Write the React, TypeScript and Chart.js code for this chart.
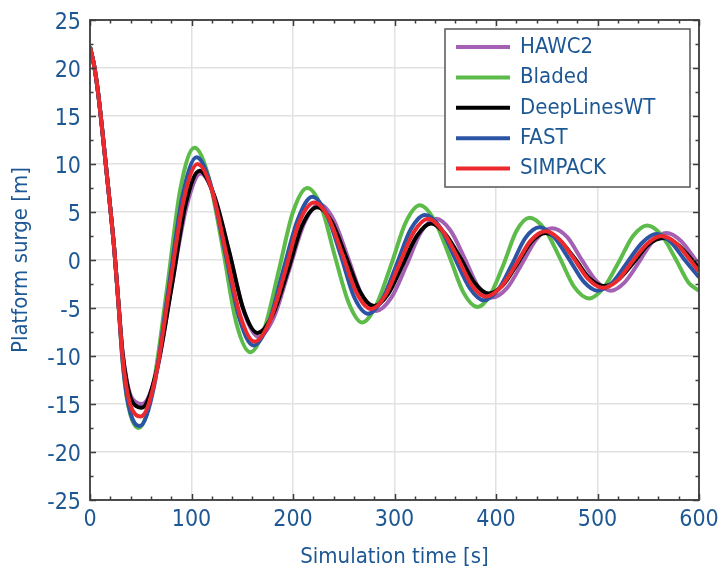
import { useEffect, useRef } from "react";
import { Chart, registerables } from "chart.js";

Chart.register(...registerables);

// ---- Data (time [s], platform surge [m]) ----
const HAWC2: [number, number][] = [
  [0, 22.2], [4, 20.3], [8, 17.4], [12, 13.6], [16, 9.5], [20, 5.4], [24, 1.0], [28, -4.4], [32, -9.5], [36, -12.4], [40, -14.1], [44, -14.7], [51, -15.0],
  [66, -11.5], [80, -3.0], [95, 5.5], [109, 9.0], [123, 6.5], [138, 0.5], [152, -5.5], [166, -8.0], [181, -6.0], [196, -1.1], [211, 3.8], [226, 5.8],
  [240, 4.2], [254, 0.3], [268, -3.7], [282, -5.3], [297, -3.9], [312, -0.5], [326, 2.9], [341, 4.3], [355, 3.1], [369, 0.2], [382, -2.7], [396, -3.9],
  [411, -2.9], [426, -0.3], [440, 2.2], [455, 3.3], [470, 2.4], [484, 0.1], [499, -2.2], [513, -3.2], [527, -2.3], [541, -0.2], [554, 1.9], [568, 2.8],
  [582, 2.0], [596, 0.1], [600, -0.5],
];

const BLADED: [number, number][] = [
  [0, 22.2], [4, 20.3], [8, 17.4], [12, 13.6], [16, 9.5], [20, 5.4], [24, 1.0], [28, -4.5], [32, -10.5], [36, -14.2], [40, -16.2], [44, -17.2], [48, -17.5],
  [62, -13.2], [76, -2.9], [89, 7.4], [103, 11.7], [117, 8.6], [131, 1.1], [144, -6.5], [158, -9.6], [172, -7.1], [186, -1.1], [200, 5.0], [214, 7.5],
  [228, 5.5], [241, 0.5], [255, -4.5], [268, -6.5], [282, -4.7], [297, -0.4], [311, 3.9], [325, 5.7], [339, 4.2], [354, 0.4], [368, -3.4], [382, -4.9],
  [395, -3.5], [408, -0.3], [420, 3.0], [433, 4.4], [448, 3.2], [463, 0.2], [477, -2.8], [492, -4.0], [506, -2.9], [521, -0.2], [535, 2.5], [549, 3.6],
  [563, 2.6], [577, 0.1], [590, -2.4], [600, -3.2],
];

const DEEPLINES: [number, number][] = [
  [0, 22.2], [4, 20.3], [8, 17.4], [12, 13.6], [16, 9.5], [20, 5.4], [24, 1.0], [28, -4.4], [32, -9.6], [36, -12.6], [40, -14.4], [44, -15.1], [51, -15.4],
  [65, -11.8], [80, -3.1], [94, 5.7], [108, 9.3], [122, 6.8], [137, 0.9], [151, -5.1], [165, -7.6], [180, -5.7], [195, -1.1], [209, 3.6], [224, 5.5],
  [238, 4.0], [252, 0.4], [266, -3.3], [280, -4.8], [294, -3.5], [308, -0.5], [322, 2.5], [336, 3.8], [350, 2.7], [365, 0.2], [379, -2.4], [393, -3.5],
  [407, -2.6], [421, -0.4], [435, 1.9], [449, 2.8], [463, 2.0], [478, 0.1], [492, -1.9], [506, -2.7], [521, -2.0], [536, -0.2], [550, 1.6], [565, 2.3],
  [579, 1.6], [594, -0.1], [600, -0.9],
];

const FAST: [number, number][] = [
  [0, 22.2], [4, 20.3], [8, 17.4], [12, 13.6], [16, 9.5], [20, 5.4], [24, 1.0], [28, -4.5], [32, -10.4], [36, -14.0], [40, -16.0], [44, -17.0], [49, -17.3],
  [63, -13.2], [77, -3.3], [91, 6.6], [105, 10.7], [119, 7.8], [133, 0.9], [147, -6.0], [161, -8.9], [176, -6.6], [190, -1.2], [205, 4.3], [219, 6.6],
  [233, 4.8], [247, 0.5], [260, -3.8], [274, -5.6], [288, -4.1], [302, -0.5], [316, 3.2], [330, 4.7], [345, 3.4], [359, 0.3], [374, -2.9], [388, -4.2],
  [402, -3.1], [416, -0.4], [429, 2.3], [443, 3.4], [457, 2.4], [472, 0.1], [486, -2.2], [500, -3.2], [515, -2.3], [529, -0.3], [544, 1.8], [558, 2.7],
  [572, 1.9], [586, 0.0], [600, -1.8],
];

const SIMPACK: [number, number][] = [
  [0, 22.2], [4, 20.3], [8, 17.4], [12, 13.6], [16, 9.5], [20, 5.4], [24, 1.0], [28, -4.5], [32, -10.0], [36, -13.3], [40, -15.2], [44, -16.0], [50, -16.3],
  [64, -12.5], [78, -3.2], [92, 6.1], [106, 10.0], [120, 7.3], [134, 0.8], [148, -5.8], [162, -8.5], [177, -6.4], [192, -1.3], [206, 3.9], [221, 6.0],
  [235, 4.4], [249, 0.5], [263, -3.5], [277, -5.1], [291, -3.7], [305, -0.4], [319, 2.9], [333, 4.3], [347, 3.1], [362, 0.3], [376, -2.6], [390, -3.8],
  [405, -2.8], [420, -0.4], [434, 2.0], [449, 3.0], [463, 2.1], [477, 0.1], [491, -2.0], [505, -2.9], [520, -2.1], [534, -0.2], [549, 1.7], [563, 2.5],
  [577, 1.8], [592, -0.1], [600, -1.2],
];

const SERIES_NAMES = ["HAWC2", "Bladed", "DeepLinesWT", "FAST", "SIMPACK"];
const SERIES_DATA = [HAWC2, BLADED, DEEPLINES, FAST, SIMPACK];
const SERIES_COLORS = ["#a461b3", "#5dbb4a", "#000000", "#2c54a5", "#ec2a2e"];
const DRAW_ORDER = [4, 3, 2, 1, 0]; // smaller = drawn on top

const X_MIN = 0, X_MAX = 600, X_MAJOR = 100, X_MINOR = 20;
const Y_MIN = -25, Y_MAX = 25, Y_MAJOR = 5, Y_MINOR = 2.5;
const X_TITLE = "Simulation time [s]";
const Y_TITLE = "Platform surge [m]";

const TEXT_COLOR = "#1d5894";
const FONT_FAMILY = "'DejaVu Sans Condensed', 'DejaVu Sans', sans-serif";

const frameTicksPlugin = {
  id: "frameTicks",
  afterDatasetsDraw(chart: any) {
    const { ctx, chartArea: a, scales } = chart;
    const x = scales.x, y = scales.y;
    ctx.save();
    ctx.strokeStyle = "#3c3c3c";
    ctx.lineWidth = 1.5;
    ctx.beginPath();
    for (let v = X_MIN; v <= X_MAX + 1e-9; v += X_MINOR) {
      const px = Math.round(x.getPixelForValue(v)) + 0.5;
      const len = Math.abs(v % X_MAJOR) < 1e-9 ? 6 : 3.5;
      ctx.moveTo(px, a.bottom); ctx.lineTo(px, a.bottom - len);
      ctx.moveTo(px, a.top); ctx.lineTo(px, a.top + len);
    }
    for (let v = Y_MIN; v <= Y_MAX + 1e-9; v += Y_MINOR) {
      const py = Math.round(y.getPixelForValue(v)) + 0.5;
      const len = Math.abs(v % Y_MAJOR) < 1e-9 ? 6 : 3.5;
      ctx.moveTo(a.left, py); ctx.lineTo(a.left + len, py);
      ctx.moveTo(a.right, py); ctx.lineTo(a.right - len, py);
    }
    ctx.stroke();
    ctx.lineWidth = 1.8;
    ctx.strokeRect(a.left, a.top, a.right - a.left, a.bottom - a.top);
    ctx.restore();
  },
};

const legendPlugin = {
  id: "boxLegend",
  afterDraw(chart: any) {
    const { ctx, chartArea: a } = chart;
    const right = a.right - 9;
    const top = a.top + 9;
    const width = 245;
    const rowH = 30.4;
    const height = 158;
    const left = right - width;
    ctx.save();
    ctx.fillStyle = "#ffffff";
    ctx.fillRect(left, top, width, height);
    ctx.strokeStyle = "#555555";
    ctx.lineWidth = 1.5;
    ctx.strokeRect(left, top, width, height);
    ctx.font = `22px ${FONT_FAMILY}`;
    ctx.textBaseline = "middle";
    ctx.textAlign = "left";
    SERIES_NAMES.forEach((name, i) => {
      const cy = top + 18 + i * rowH;
      ctx.strokeStyle = SERIES_COLORS[i];
      ctx.lineWidth = 4;
      ctx.beginPath();
      ctx.moveTo(left + 11, cy);
      ctx.lineTo(left + 65, cy);
      ctx.stroke();
      ctx.fillStyle = TEXT_COLOR;
      ctx.fillText(name, left + 75, cy);
    });
    ctx.restore();
  },
};

export default function App() {
  const ref = useRef<HTMLCanvasElement | null>(null);

  useEffect(() => {
    document.body.style.margin = "0";
    if (!ref.current) return;
    const chart = new Chart(ref.current, {
      type: "line",
      data: {
        datasets: SERIES_NAMES.map((name, i) => ({
          label: name,
          data: SERIES_DATA[i].map(([t, v]) => ({ x: t, y: v })),
          borderColor: SERIES_COLORS[i],
          backgroundColor: SERIES_COLORS[i],
          borderWidth: 4,
          pointRadius: 0,
          fill: false,
          cubicInterpolationMode: "monotone" as const,
          order: DRAW_ORDER[i],
        })),
      },
      options: {
        responsive: false,
        animation: false,
        events: [],
        layout: { padding: { top: 20, right: 23, left: 0, bottom: 0 } },
        plugins: {
          legend: { display: false },
          tooltip: { enabled: false },
          title: { display: false },
        },
        scales: {
          x: {
            type: "linear",
            min: X_MIN,
            max: X_MAX,
            afterFit(s: any) {
              s.height = 70;
              s.paddingLeft = 0;
              s.paddingRight = 0;
            },
            afterBuildTicks(s: any) {
              const t = [];
              for (let v = X_MIN; v <= X_MAX; v += X_MAJOR) t.push({ value: v });
              s.ticks = t;
            },
            grid: { color: "#e2e2e2", lineWidth: 1.5, drawTicks: false },
            border: { display: false },
            ticks: {
              color: TEXT_COLOR,
              font: { family: FONT_FAMILY, size: 23 },
              padding: 6,
              maxRotation: 0,
              autoSkip: false,
            },
            title: {
              display: true,
              text: X_TITLE,
              color: TEXT_COLOR,
              font: { family: FONT_FAMILY, size: 22, lineHeight: 1.1 },
              padding: { top: 0, bottom: 1 },
            },
          },
          y: {
            type: "linear",
            min: Y_MIN,
            max: Y_MAX,
            afterFit(s: any) {
              s.width = 90;
              s.paddingTop = 0;
              s.paddingBottom = 0;
            },
            afterBuildTicks(s: any) {
              const t = [];
              for (let v = Y_MIN; v <= Y_MAX; v += Y_MAJOR) t.push({ value: v });
              s.ticks = t;
            },
            grid: { color: "#e2e2e2", lineWidth: 1.5, drawTicks: false },
            border: { display: false },
            ticks: {
              color: TEXT_COLOR,
              font: { family: FONT_FAMILY, size: 23 },
              padding: 9,
              labelOffset: 3,
              autoSkip: false,
            },
            title: {
              display: true,
              text: Y_TITLE,
              color: TEXT_COLOR,
              font: { family: FONT_FAMILY, size: 22, lineHeight: 1.1 },
              padding: { top: 9, bottom: 0 },
            },
          },
        },
      },
      plugins: [frameTicksPlugin, legendPlugin],
    });
    return () => chart.destroy();
  }, []);

  return <canvas ref={ref} width={722} height={570} style={{ display: "block" }} />;
}
